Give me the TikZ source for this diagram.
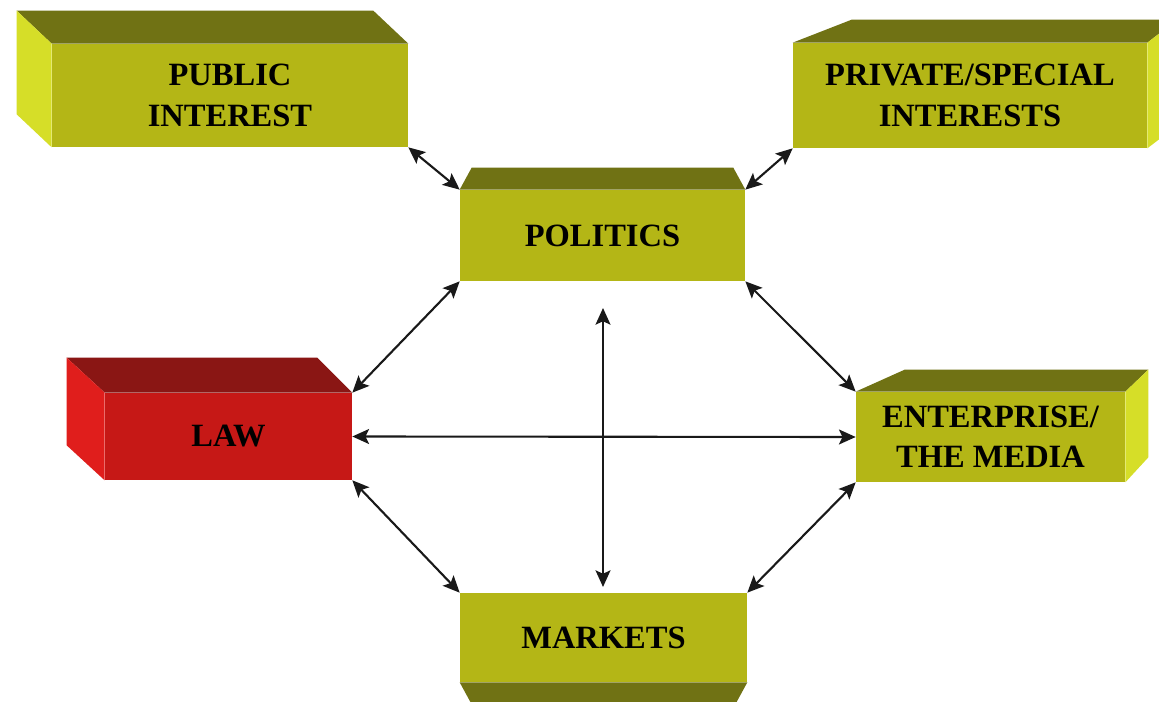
\documentclass[tikz,border=0pt]{standalone}
\usepackage{fontspec}
\setmainfont{Liberation Serif}
\usetikzlibrary{arrows.meta,calc,positioning}

\definecolor{olivefront}{RGB}{180,182,22}
\definecolor{olivetop}{RGB}{112,114,20}
\definecolor{oliveside}{RGB}{214,222,40}
\definecolor{lawfront}{RGB}{198,24,22}
\definecolor{lawtop}{RGB}{138,22,20}
\definecolor{lawside}{RGB}{224,30,28}

\tikzset{
    block/.style={rectangle, fill=olivefront, inner sep=0pt, align=center,
        font=\fontsize{18.5}{23}\selectfont\bfseries},
    lawblock/.style={block, fill=lawfront},
    tip/.tip={Stealth[length=9.5pt, width=8.5pt, inset=2pt]},
    link/.style={tip-tip, line width=1.2pt, black!90}
}

\begin{document}
\begin{tikzpicture}[x=0.02cm, y=-0.02cm]
    \clip (0,0) rectangle (1159,702);
    \fill[white] (0,0) rectangle (1159,702);

    % Front faces
    \node[block, minimum width=7.12cm, minimum height=2.06cm] (pub) at (230,95.5) {PUBLIC\\INTEREST};
    \node[block, minimum width=7.08cm, minimum height=2.10cm] (priv) at (970,95.5) {PRIVATE/SPECIAL\\INTERESTS};
    \node[block, minimum width=5.70cm, minimum height=1.82cm] (pol) at (602.5,235.5) {POLITICS};
    \node[lawblock, minimum width=4.94cm, minimum height=1.74cm] (law) at (228.5,436.5) {LAW};
    \node[block, minimum width=5.38cm, minimum height=1.80cm] (ent) at (990.5,437) {ENTERPRISE/\\THE MEDIA};
    \node[block, minimum width=5.74cm, minimum height=1.78cm] (mkt) at (603.5,637.5) {MARKETS};

    % Public interest: top and left side
    \fill[olivetop] (pub.north west) -- (pub.north east) -- ++(-35,-33) -- ($(pub.north west)+(-35,-33)$) -- cycle;
    \fill[oliveside] (pub.north west) -- ++(-35,-33) -- ($(pub.south west)+(-35,-33)$) -- (pub.south west) -- cycle;

    % Private/special interests: top and right side
    \fill[olivetop] (priv.north west) -- (priv.north east) -- ++(30,-23) -- ($(priv.north west)+(59,-23)$) -- cycle;
    \fill[oliveside] (priv.north east) -- ++(30,-23) -- ($(priv.south east)+(30,-23)$) -- (priv.south east) -- cycle;

    % Politics: top
    \fill[olivetop] (pol.north west) -- (pol.north east) -- ++(-12,-22) -- ($(pol.north west)+(12,-22)$) -- cycle;

    % Law: top and left side
    \fill[lawtop] (law.north west) -- (law.north east) -- ++(-35,-35) -- ($(law.north west)+(-38,-35)$) -- cycle;
    \fill[lawside] (law.north west) -- ++(-38,-35) -- ($(law.south west)+(-38,-35)$) -- (law.south west) -- cycle;

    % Enterprise/the media: top and right side
    \fill[olivetop] (ent.north west) -- (ent.north east) -- ++(23,-22) -- ($(ent.north west)+(49,-22)$) -- cycle;
    \fill[oliveside] (ent.north east) -- ++(23,-22) -- ($(ent.south east)+(23,-25)$) -- (ent.south east) -- cycle;

    % Markets: bottom
    \fill[olivetop] (mkt.south west) -- (mkt.south east) -- ++(-12,22) -- ($(mkt.south west)+(12,22)$) -- cycle;

    % Connectors
    \draw[link] (pub.south east) -- (pol.north west);
    \draw[link] (priv.south west) -- (pol.north east);
    \draw[link] (pol.south west) -- (law.north east);
    \draw[link] (pol.south east) -- (ent.north west);
    \draw[link] (law.east) -- (ent.west);
    \draw[link] (law.south east) -- (mkt.north west);
    \draw[link] (ent.south west) -- (mkt.north east);

    \coordinate (vtop) at (603,308);
    \coordinate (vbot) at (603,587);
    \draw[link] (vtop) -- (vbot);
\end{tikzpicture}
\end{document}
